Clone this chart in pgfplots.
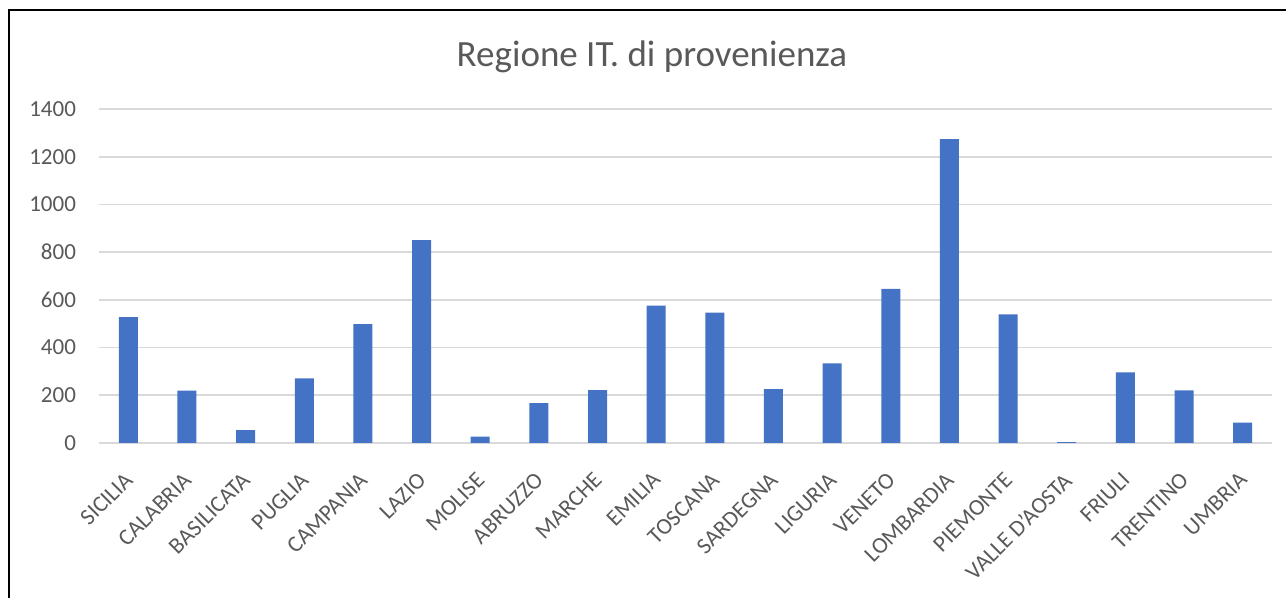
\documentclass[border=0pt]{standalone}
\usepackage{fontspec}
\setmainfont{Carlito}
\usepackage{pgfplots}
\pgfplotsset{compat=1.18}

\definecolor{barblue}{HTML}{4472C4}
\definecolor{txtgray}{HTML}{595959}
\definecolor{gridgray}{HTML}{D9D9D9}

\begin{document}
\begin{tikzpicture}
\useasboundingbox (0pt,0pt) rectangle (643pt,299pt);
% chart frame (only left and top edges are visible)
\draw[line width=1pt] (4.5pt,0pt) -- (4.5pt,294pt) -- (643pt,294pt);

\node[text=txtgray, font=\fontsize{18.5}{22}\selectfont] at (326pt,270.5pt) {Regione IT. di provenienza};

\begin{axis}[
    at={(49.5pt,77.5pt)},
    anchor=south west,
    scale only axis,
    width=586.5pt,
    height=167pt,
    ybar,
    bar width=9.5pt,
    xmin=-0.5, xmax=19.5,
    ymin=0, ymax=1400,
    ytick={0,200,...,1400},
    xtick={0,...,19},
    xticklabels={SICILIA,CALABRIA,BASILICATA,PUGLIA,CAMPANIA,LAZIO,MOLISE,ABRUZZO,MARCHE,EMILIA,TOSCANA,SARDEGNA,LIGURIA,VENETO,LOMBARDIA,PIEMONTE,VALLE D'AOSTA,FRIULI,TRENTINO,UMBRIA},
    xticklabel style={rotate=45, anchor=north east, inner sep=1pt, yshift=-7pt, xshift=-10.5pt,
        font=\fontsize{11.5}{13}\selectfont, text=txtgray},
    yticklabel style={font=\fontsize{11.5}{13}\selectfont, text=txtgray, xshift=-8pt},
    /pgf/number format/assume math mode=true,
    /pgf/number format/1000 sep={},
    axis line style={draw=none},
    major tick length=0pt,
    ymajorgrids,
    grid style={gridgray, line width=0.9pt},
]
\addplot[fill=barblue, draw=none] coordinates {
    (0,528) (1,219) (2,54) (3,271) (4,498) (5,850) (6,27) (7,167) (8,222) (9,576)
    (10,546) (11,226) (12,334) (13,646) (14,1274) (15,539) (16,4) (17,296) (18,221) (19,85)
};
\end{axis}
\end{tikzpicture}
\end{document}
